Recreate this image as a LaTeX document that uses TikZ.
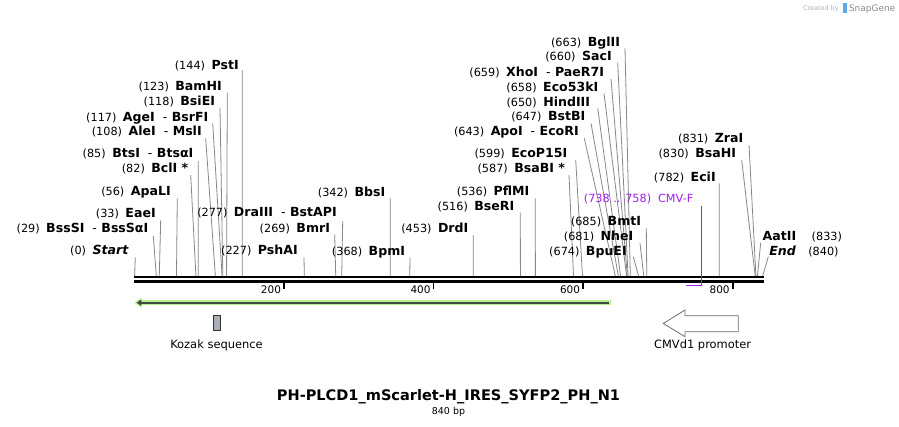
\documentclass[tikz,border=0pt]{standalone}
\usepackage{fontspec}
\setmainfont{DejaVu Sans}
\usetikzlibrary{arrows.meta}
\definecolor{cutgray}{RGB}{135,135,135}
\definecolor{cmvpurple}{RGB}{160,32,240}
\definecolor{lgreen}{RGB}{182,240,140}
\definecolor{dgreen}{RGB}{64,72,64}
\definecolor{kozfill}{RGB}{168,175,184}
\definecolor{promogray}{RGB}{110,110,110}
\definecolor{sgblue}{RGB}{90,170,235}
\newcommand\Lnum[1]{{\fontsize{11.3}{13}\selectfont #1}}
\newcommand\Lname[1]{{\fontsize{12.6}{14}\selectfont\bfseries #1}}
\newcommand\Llab[2]{\Lnum{(#1)}\hspace{6.5pt}\Lname{#2}}
\newcommand\Ldash{\hspace{8pt}{\mdseries -}\hspace{4.5pt}}
\newcommand\Enz[7]{%
  \node[lab] (t#1) at (#2,#3) {#7};
  \coordinate (a#1) at (#4,#5);
  \coordinate (b#1) at ({134.6+0.7477*#6},276);
  \draw[cut] (a#1) -- (b#1);}
\begin{document}
\begin{tikzpicture}[x=1bp,y=-1bp,
  lab/.style={anchor=base east, inner sep=0pt, outer sep=0pt},
  labw/.style={anchor=base west, inner sep=0pt, outer sep=0pt},
  cut/.style={draw=cutgray, line width=0.8pt},
  backbone/.style={line width=2.5pt, draw=black},
  tickmark/.style={line width=1.5pt, draw=black},
  ticklab/.style={anchor=base east, inner sep=0pt, font=\fontsize{10.5}{12}\selectfont},
  featlab/.style={anchor=base, inner sep=0pt, font=\fontsize{11.5}{13}\selectfont},
  kozak/.style={draw=black!80, fill=kozfill, line width=1pt, minimum width=7.4pt, minimum height=15.7pt, inner sep=0pt},
  promo/.style={draw=promogray, fill=white, line width=0.8pt},
  primer/.style={draw=cmvpurple, line width=1.8pt}]
\useasboundingbox (0,0) rectangle (899,426);
\fill[white] (0,0) rectangle (899,426);

% backbone
\coordinate (bbL1) at (134,277.2);
\coordinate (bbR1) at (764,277.2);
\coordinate (bbL2) at (134,281.5);
\coordinate (bbR2) at (764,281.5);
\draw[backbone] (bbL1) -- (bbR1);
\draw[backbone] (bbL2) -- (bbR2);

% ticks
\foreach \v in {200,400,600,800}{
  \coordinate (tk\v a) at ({134.6+0.7477*\v},282.5);
  \coordinate (tk\v b) at ({134.6+0.7477*\v},288.7);
  \draw[tickmark] (tk\v a) -- (tk\v b);
  \node[ticklab] (tl\v) at ({134.6+0.7477*\v-3},293) {\v};
}

% enzymes
\Enz{e1}{238.7}{69}{242.3}{70}{144}{\Llab{144}{PstI}}
\Enz{e2}{221.7}{90}{227.3}{92.7}{123}{\Llab{123}{BamHI}}
\Enz{e3}{215}{105.7}{220}{107.7}{118}{\Llab{118}{BsiEI}}
\Enz{e4}{208.3}{121}{212.7}{123.3}{117}{\Llab{117}{AgeI\Ldash BsrFI}}
\Enz{e5}{201.7}{135.7}{205.7}{138.3}{108}{\Llab{108}{AleI\Ldash MslI}}
\Enz{e6}{193.3}{157.7}{198.3}{161}{85}{\Llab{85}{BtsI\Ldash BtsαI}}
\Enz{e7}{188.3}{172.7}{190.7}{175}{82}{\Llab{82}{BclI *}}
\Enz{e8}{170.7}{195.7}{177.3}{198.3}{56}{\Llab{56}{ApaLI}}
\Enz{e9}{155.7}{217.7}{160.7}{220}{33}{\Llab{33}{EaeI}}
\Enz{e10}{148.3}{232.7}{153.3}{236}{29}{\Llab{29}{BssSI\Ldash BssSαI}}
\Enz{e11}{128.3}{254.3}{135.3}{257.3}{0}{\Llab{0}{\itshape Start}}
\Enz{e12}{297.7}{254.3}{304}{257.3}{227}{\Llab{227}{PshAI}}
\Enz{e13}{336.7}{216.7}{342.7}{221}{277}{\Llab{277}{DraIII\Ldash BstAPI}}
\Enz{e14}{330}{232.7}{334.7}{234.3}{269}{\Llab{269}{BmrI}}
\Enz{e15}{385.3}{196}{390.3}{198.3}{342}{\Llab{342}{BbsI}}
\Enz{e16}{405}{255}{410}{257.3}{368}{\Llab{368}{BpmI}}
\Enz{e17}{468.3}{232.7}{473.3}{235}{453}{\Llab{453}{DrdI}}
\Enz{e18}{514.3}{210.7}{520.3}{212.7}{516}{\Llab{516}{BseRI}}
\Enz{e19}{529.3}{195.7}{535.3}{198.3}{536}{\Llab{536}{PflMI}}
\Enz{e20}{565}{172.7}{569}{175}{587}{\Llab{587}{BsaBI *}}
\Enz{e21}{567.3}{157.7}{575.7}{160}{599}{\Llab{599}{EcoP15I}}
\Enz{e22}{578.7}{135.7}{584.3}{138.3}{643}{\Llab{643}{ApoI\Ldash EcoRI}}
\Enz{e23}{585.3}{120.7}{591}{123.3}{647}{\Llab{647}{BstBI}}
\Enz{e24}{590}{106}{597.7}{108.3}{650}{\Llab{650}{HindIII}}
\Enz{e25}{598.3}{91}{604}{93.3}{658}{\Llab{658}{Eco53kI}}
\Enz{e26}{604}{76}{611}{79}{659}{\Llab{659}{XhoI\Ldash PaeR7I}}
\Enz{e27}{611.7}{60.7}{617.7}{62.7}{660}{\Llab{660}{SacI}}
\Enz{e28}{620}{46}{625}{48.3}{663}{\Llab{663}{BglII}}
\Enz{e29}{626.7}{255.7}{633.3}{256.7}{674}{\Llab{674}{BpuEI}}
\Enz{e30}{633.3}{240.7}{640}{243.3}{681}{\Llab{681}{NheI}}
\Enz{e31}{641}{225.7}{646.3}{228.3}{685}{\Llab{685}{BmtI}}
\Enz{e32}{715.7}{181}{719.3}{183.3}{782}{\Llab{782}{EciI}}
\Enz{e33}{736}{157.7}{741.7}{160}{830}{\Llab{830}{BsaHI}}
\Enz{e34}{743.3}{142.7}{749}{145}{831}{\Llab{831}{ZraI}}

% right-side labels
\node[labw] (tAat) at (762.7,240.7) {\Lname{AatII}};
\node[labw] (nAat) at (811.7,240.7) {\Lnum{(833)}};
\coordinate (aAat) at (760.7,242.7);
\coordinate (bAat) at ({134.6+0.7477*833},276);
\draw[cut] (aAat) -- (bAat);
\node[labw] (tEnd) at (769.3,255) {\Lname{\itshape End}};
\node[labw] (nEnd) at (808.3,255) {\Lnum{(840)}};
\coordinate (aEnd) at (768.3,256.7);
\coordinate (bEnd) at ({134.6+0.7477*840},276);
\draw[cut] (aEnd) -- (bEnd);

% CMV-F primer
\node[lab, text=cmvpurple] (cmvl) at (693.3,202.7) {\Lnum{(738 .. 758)\hspace{7pt}CMV-F}};
\coordinate (cmvtop) at (701.5,205.5);
\coordinate (cmvcorner) at (701.5,285.5);
\coordinate (cmvleft) at (686,285.5);
\draw[primer] (cmvtop) -- (cmvcorner) -- (cmvleft);

% green ORF arrow
\coordinate (grR) at (611,302.7);
\coordinate (grL) at (134.5,302.7);
\coordinate (gdR) at (608.5,302.7);
\coordinate (gdL) at (136.5,302.7);
\draw[lgreen, line width=4.6pt, -{Triangle[length=7pt,width=10pt]}] (grR) -- (grL);
\draw[dgreen, line width=1.8pt, -{Triangle[length=5pt,width=6pt]}] (gdR) -- (gdL);

% Kozak
\node[kozak] (koz) at (217,322.85) {};
\node[featlab] (kozl) at (216.5,348.3) {Kozak sequence};

% CMVd1 promoter
\coordinate (p1) at (663.3,323.5);
\coordinate (p2) at (685,310);
\coordinate (p3) at (685,315.7);
\coordinate (p4) at (738.3,315.7);
\coordinate (p5) at (738.3,331.7);
\coordinate (p6) at (685,331.7);
\coordinate (p7) at (685,336.7);
\draw[promo] (p1) -- (p2) -- (p3) -- (p4) -- (p5) -- (p6) -- (p7) -- cycle;
\node[featlab] (promol) at (702.6,348.3) {CMVd1 promoter};

% title
\node[anchor=base, inner sep=0pt] (title) at (448.5,400) {\fontsize{14.6}{16}\selectfont\bfseries PH-PLCD1\_mScarlet-H\_IRES\_SYFP2\_PH\_N1};
\node[anchor=base, inner sep=0pt] (bp) at (448.5,414) {\fontsize{9.5}{11}\selectfont 840 bp};

% watermark
\node[labw, text=black!30] (wm1) at (803,10) {\fontsize{6.5}{8}\selectfont Created by};
\fill[sgblue] (842.5,3) rectangle (846.5,12.5);
\node[labw, text=black!45] (wm2) at (849,11) {\fontsize{9}{10}\selectfont SnapGene};
\end{tikzpicture}
\end{document}
